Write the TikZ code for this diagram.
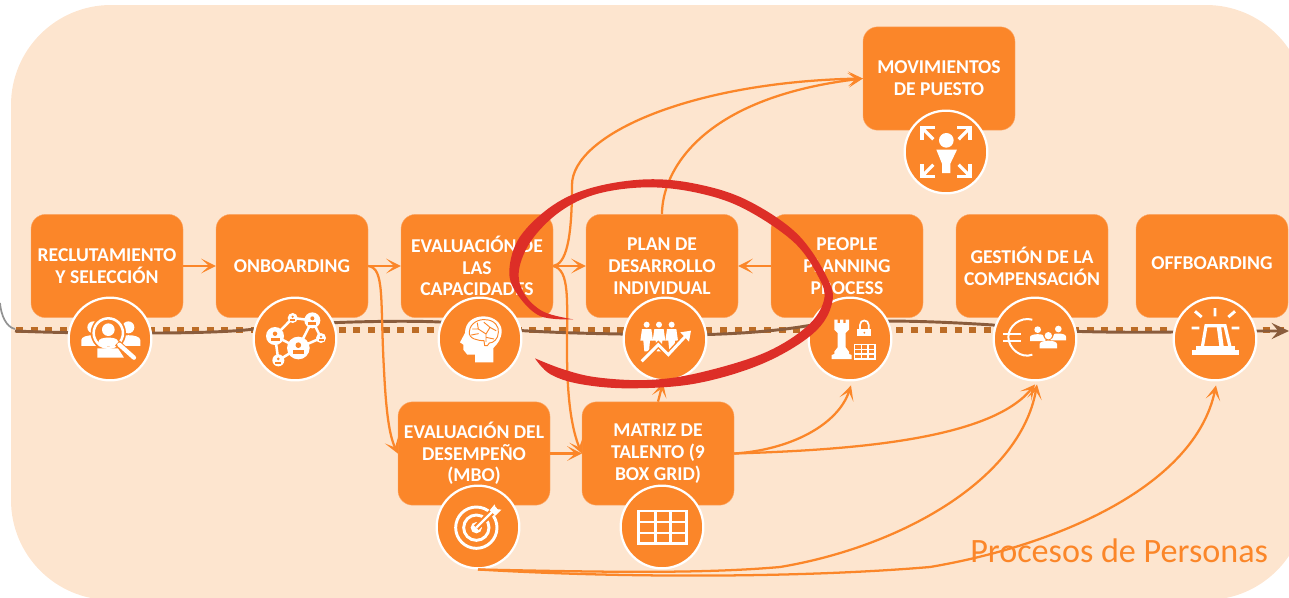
\documentclass[tikz,border=0pt]{standalone}
\usepackage{fontspec}
\setmainfont{Carlito}
\usetikzlibrary{arrows.meta,calc}
\definecolor{bgc}{HTML}{FDE5CF}
\definecolor{org}{HTML}{FB8629}
\definecolor{orgl}{HTML}{FBA869}
\definecolor{redc}{HTML}{DD2E27}
\definecolor{brn}{HTML}{8A5C3C}
\definecolor{dotc}{HTML}{BC6C26}
\tikzset{
  boxn/.style={rectangle,rounded corners=11pt,minimum width=114pt,minimum height=77.5pt,fill=org,draw=orgl,line width=.3pt,inner sep=0pt,align=center,text=white,font=\fontsize{14.7pt}{16.3pt}\selectfont\bfseries},
  circn/.style={circle,minimum size=62pt,fill=org,draw=white,line width=1.7pt,inner sep=0pt},
  conn/.style={draw=org,line width=1.7pt,-{Stealth[length=11pt,width=11pt,inset=6pt]}},
  ow/.style={draw=white,line width=1.9pt,line cap=round,line join=round},
  ico/.style={scale=1/3}
}
\newcommand{\prs}[4]{% x y(head) headr bodyhalfwidth
  \fill[white] (#1,#2) circle (#3);
  \fill[white] ({#1-#4},{#2+#3+#4*1.05}) -- ({#1-#4},{#2+#3+#4*.55}) .. controls ({#1-#4},{#2+#3*1.05}) and ({#1+#4},{#2+#3*1.05}) .. ({#1+#4},{#2+#3+#4*.55}) -- ({#1+#4},{#2+#3+#4*1.05}) -- cycle;
}
\begin{document}
\begin{tikzpicture}[x=.75pt,y=-.75pt]
\useasboundingbox (0,0) rectangle (1289,597);
\clip (0,0) rectangle (1289,597);
\fill[bgc,rounded corners=75pt] (11,5) rectangle (1306,600);
% timeline
\draw[gray!85,line width=1.3pt] (0,303) .. controls (1,315) and (6,327) .. (15,329);
\draw[dotc,line width=5.2pt,dash pattern=on 5.2pt off 5.8pt] (16,330) -- (1289,330);
\draw[brn,line width=2.2pt,-{Stealth[length=13pt,width=12pt,inset=5pt]}] (15,331) .. controls (60,333) and (100,333) .. (150,333) .. controls (190,333) and (230,332) .. (255,329) .. controls (300,322) and (400,320) .. (440,322) .. controls (470,326) and (500,332) .. (620,334) .. controls (700,337) and (760,333) .. (800,327) .. controls (840,320) and (900,319) .. (993,325) .. controls (1030,331) and (1100,333) .. (1173,332) .. controls (1200,331) and (1250,331) .. (1289,331);
% boxes
\node[boxn] (rec) at (107,266) {RECLUTAMIENTO\\Y SELECCIÓN};
\node[boxn] (onb) at (292,266) {ONBOARDING};
\node[boxn] (cap) at (477,266) {EVALUACIÓN DE\\LAS\\CAPACIDADES};
\node[boxn] (pla) at (662,266) {PLAN DE\\DESARROLLO\\INDIVIDUAL};
\node[boxn] (peo) at (847,266) {PEOPLE\\PLANNING\\PROCESS};
\node[boxn] (ges) at (1032,266) {GESTIÓN DE LA\\COMPENSACIÓN};
\node[boxn] (off) at (1212,266) {\raisebox{4.5pt}{OFFBOARDING}};
\node[boxn] (mov) at (939,78.5) {MOVIMIENTOS\\DE PUESTO};
\node[boxn] (mbo) at (474,453.5) {EVALUACIÓN DEL\\DESEMPEÑO\\(MBO)};
\node[boxn] (mat) at (658,453.5) {MATRIZ DE\\TALENTO (9\\BOX GRID)};
% circles
\node[circn] (c1) at (110,339) {};
\node[circn] (c2) at (295,339) {};
\node[circn] (c3) at (480,339) {};
\node[circn] (c4) at (665,339) {};
\node[circn] (c5) at (850,339) {};
\node[circn] (c6) at (1035,339) {};
\node[circn] (c7) at (1215,339) {};
\node[circn] (c8) at (946,152) {};
\node[circn] (c9) at (478,527) {};
\node[circn] (c10) at (662,527) {};
% connectors
\draw[conn] (rec.east) -- (onb.west);
\draw[conn] (onb.east) -- (cap.west);
\draw[conn] (onb.east) .. controls (385,268) and (380,300) .. (384,370) .. controls (386,410) and (389,435) .. (mbo.west);
\draw[conn] (cap.east) -- (pla.west);
\draw[conn] (cap.east) .. controls (566,264) and (572,240) .. (572,185) .. controls (572,135) and (690,82) .. (mov.west);
\draw[conn] (cap.east) .. controls (570,270) and (567,300) .. (567,350) .. controls (567,400) and (572,430) .. (mat.west);
\draw[conn] (mbo.east) -- (mat.west);
\draw[conn] (pla.north) .. controls (662,172) and (700,98) .. (mov.west);
\draw[conn] (peo.west) -- (pla.east);
\draw[conn] (mat.north) -- ($(c4.south)+(-2,1)$);
\draw[conn] (mat.east) .. controls (790,450) and (838,425) .. ($(c5.south)+(1,4)$);
\draw[conn] (mat.east) .. controls (850,450) and (990,440) .. ($(c6.south)+(0,3)$);
\draw[conn] (c9.south) .. controls (600,572) and (700,574) .. (780,567) .. controls (900,547) and (1020,480) .. ($(c6.south)+(2,3)$);
\draw[conn] (c9.south) .. controls (620,578) and (800,578) .. (930,567) .. controls (1060,545) and (1195,485) .. ($(c7.south)+(1,4)$);
% icon 1: search people
\begin{scope}[shift={(c1.center)},ico]
  \prs{-50}{-35}{18}{36}
  \prs{55}{-35}{18}{36}
  \fill[org] (-5,-18) circle (53);
  \draw[white,line width=1.9pt] (-5,-18) circle (44);
  \prs{-5}{-28}{19}{29}
  \fill[white] (-38,28) -- (-38,56) -- (42,56) -- (24,28) -- cycle;
  \draw[org,line width=5pt] (22,12) -- (70,56);
  \draw[white,line width=3.2pt,line cap=round] (28,17) -- (72,56);
\end{scope}
% icon 2: network
\begin{scope}[shift={(c2.center)},ico]
  \draw[ow] (-7,-63) -- (52,-56) -- (78,-3) -- (10,27) -- (-60,-9) -- cycle;
  \draw[ow] (52,-56) -- (10,27) -- (-50,64) -- (-60,-9);
  \foreach \x/\y/\r in {-7/-63/15,52/-56/24,-60/-9/27,78/-3/15,10/27/34,-50/64/18}{
    \fill[white] (\x,\y) circle (\r);
    \fill[org] (\x,{\y-.25*\r}) circle ({.25*\r});
    \fill[org] ({\x-.5*\r},{\y+.55*\r}) -- ({\x-.5*\r},{\y+.2*\r}) -- ({\x+.5*\r},{\y+.2*\r}) -- ({\x+.5*\r},{\y+.55*\r}) -- cycle;
  }
\end{scope}
% icon 3: brain head
\begin{scope}[shift={(c3.center)},ico]
  \fill[white] (40,70) -- (-15,70) -- (-15,47) -- (-38,47) -- (-50,32) -- (-50,17) -- (-60,10) -- (-45,-18) .. controls (-45,-50) and (-20,-68) .. (10,-68) .. controls (45,-68) and (65,-45) .. (65,-25) .. controls (65,0) and (52,15) .. (40,27) -- cycle;
  \draw[org,line width=.7pt,line cap=round,line join=round] (-32,-22) .. controls (-30,-50) and (0,-60) .. (15,-58) .. controls (45,-58) and (58,-35) .. (55,-20) .. controls (55,0) and (40,12) .. (28,12) -- (22,20) -- (14,20) -- (12,5) .. controls (-5,5) and (-35,0) .. (-32,-22);
  \draw[org,line width=.7pt,line cap=round,line join=round] (18,8) -- (18,-15) -- (-5,-30) (18,-15) -- (30,-35) -- (12,-50) (30,-35) -- (48,-25) (-22,-30) -- (-5,-30) -- (-8,-48) (18,-5) -- (42,0) (-26,-12) -- (-5,-16);
\end{scope}
% icon 4: people + growth
\begin{scope}[shift={(c4.center)},ico]
  \foreach \x in {-55,-18,20}{
    \fill[white] (\x,-43) circle (9);
    \fill[white] ({\x-14},-30) -- ({\x+14},-30) -- ({\x+19},5) -- ({\x+10},5) -- ({\x+7},37) -- ({\x-7},37) -- ({\x-10},5) -- ({\x-19},5) -- cycle;
  }
  \draw[org,line width=4.4pt] (-70,67) -- (-20,17) -- (10,47) -- (65,-12);
  \draw[white,line width=2.2pt] (-70,67) -- (-20,17) -- (10,47) -- (65,-12);
  \fill[white] (78,-25) -- (72,8) -- (46,-20) -- cycle;
\end{scope}
% icon 5: rook, lock, grid
\begin{scope}[shift={(c5.center)},ico]
  \fill[white] (-47,-58) -- (-37,-58) -- (-37,-48) -- (-30,-48) -- (-30,-58) -- (-20,-58) -- (-20,-48) -- (-13,-48) -- (-13,-58) -- (-3,-58) -- (-3,-28) -- (-13,-18) -- (-13,25) -- (-3,38) -- (-3,45) -- (5,48) -- (5,60) -- (-55,60) -- (-55,48) -- (-47,45) -- (-47,38) -- (-37,25) -- (-37,-18) -- (-47,-28) -- cycle;
  \fill[white] (22,-30) rectangle (64,-8);
  \draw[white,line width=1.3pt] (30,-30) -- (30,-42) .. controls (30,-60) and (56,-60) .. (56,-42) -- (56,-30);
  \fill[org] (43,-19) circle (3);
  \draw[white,line width=.9pt] (14,17) rectangle (75,60) (14,31) -- (75,31) (14,45) -- (75,45) (34,17) -- (34,60) (54,17) -- (54,60);
\end{scope}
% icon 6: euro + people
\begin{scope}[shift={(c6.center)},ico]
  \draw[white,line width=1.5pt] (-8,-58) .. controls (-45,-68) and (-80,-38) .. (-80,-6) .. controls (-80,28) and (-42,60) .. (-8,47);
  \draw[white,line width=1.5pt] (-95,-16) -- (-42,-16) (-95,7) -- (-42,7);
  \prs{8}{-28}{10}{23}
  \prs{70}{-30}{10}{23}
  \fill[org] (40,-14) circle (17);
  \prs{40}{-10}{11}{26}
\end{scope}
% icon 7: beacon
\begin{scope}[shift={(c7.center)},ico]
  \fill[white] (-70,33) rectangle (73,48);
  \fill[white] (-57,22) rectangle (60,33);
  \draw[white,line width=2.4pt,line join=miter] (-38,24) -- (-27,-40) -- (30,-40) -- (45,24);
  \fill[white] (5,-38) -- (18,-38) -- (26,22) -- (13,22) -- cycle;
  \draw[white,line width=2.2pt] (0,-93) -- (0,-68) (-60,-83) -- (-40,-66) (60,-83) -- (40,-66) (-70,-33) -- (-47,-33) (50,-33) -- (73,-33);
\end{scope}
% icon 8: movement
\begin{scope}[shift={(c8.center)},ico]
  \fill[white] (1,-35) circle (22);
  \fill[white] (-29,-7) -- (33,-7) -- (13,35) -- (13,63) -- (-12,63) -- (-12,35) -- cycle;
  \foreach \sx/\sy in {-1/-1,1/-1,-1/1,1/1}{
    \draw[white,line width=2.4pt] ({\sx*33},{\sy*73}) -- ({\sx*72},{\sy*73}) -- ({\sx*72},{\sy*36});
    \draw[white,line width=2.4pt] ({\sx*72},{\sy*73}) -- ({\sx*38},{\sy*38});
  }
\end{scope}
% icon 9: target
\begin{scope}[shift={(c9.center)},ico]
  \draw[white,line width=2.2pt] (-5,2) circle (62);
  \draw[white,line width=2.2pt] (-5,2) circle (38);
  \fill[white] (-5,2) circle (17);
  \draw[org,line width=5pt] (-5,2) -- (48,-51);
  \draw[white,line width=1.8pt] (-5,2) -- (55,-58);
  \fill[white] (35,-50) -- (50,-68) -- (54,-54) -- (70,-52) -- (52,-34) -- cycle;
\end{scope}
% icon 10: grid
\begin{scope}[shift={(c10.center)},ico]
  \draw[white,line width=2.2pt] (-70,-48) rectangle (73,50);
  \draw[white,line width=1.9pt] (-70,-15) -- (73,-15) (-70,18) -- (73,18) (-20,-48) -- (-20,50) (25,-48) -- (25,50);
\end{scope}
% title
\node[anchor=base west,inner sep=0pt,text=org,font=\fontsize{25.6pt}{30pt}\selectfont] (ttl) at (970,562) {Procesos de Personas};
% red hand-drawn ellipse
\begin{scope}[shift={(380,170)},scale=1/3]
\fill[redc] plot[smooth,tension=.6] coordinates {(580,448) (480,438) (410,370) (388,300) (420,200) (520,105) (640,52) (800,28) (950,42) (1100,90) (1250,190) (1340,320) (1356,400) (1300,490) (1150,580) (950,640) (750,655) (600,642) (510,612) (465,565)}
 -- plot[smooth,tension=.6] coordinates {(465,565) (550,598) (650,622) (800,630) (950,610) (1150,550) (1280,470) (1332,390) (1315,320) (1240,215) (1090,115) (950,68) (800,52) (650,72) (540,125) (455,210) (417,300) (432,370) (490,425) (580,448)} -- cycle;
\end{scope}
\end{tikzpicture}
\end{document}
